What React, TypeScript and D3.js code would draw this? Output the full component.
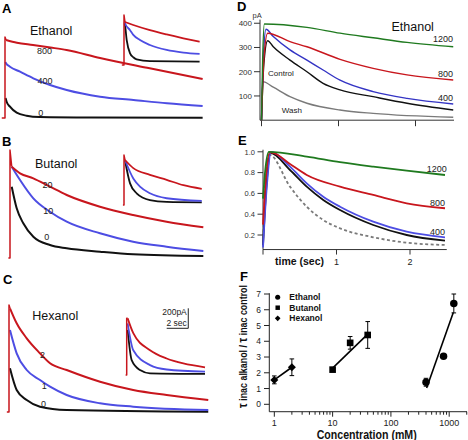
import React from 'react';
import * as d3 from 'd3';

type Pt = [number, number];

const FONT = '"Liberation Sans", Arial, Helvetica, sans-serif';
const RED = '#c8161d';
const BLUE = '#4d4de3';
const DBLUE = '#3434c4';
const GREEN = '#1f7a1f';
const GRAY = '#7a7a7a';
const BLACK = '#111111';

// calibration of panels A-C (scale bar: 200 pA, 2 sec)
const PX_PER_S = 10.8;
const PX_PER_PA = 0.1;

// ---------- Panel A (Ethanol): time (s), current (pA) ----------
const aRedSpike: Pt[] = [[-0.3, 0], [0, 0], [0, 810], [0.1, 780]];
const aRed: Pt[] = [[0.1, 780], [1.1, 753], [2.6, 730], [4.2, 705], [5.7, 680], [8.8, 600], [13.4, 497], [18.3, 390]];
const aBlue: Pt[] = [[0.05, 560], [0.09, 547], [0.46, 513], [1.39, 463], [2.62, 397], [4.17, 330], [5.71, 280], [8.8, 213], [11.9, 180], [15.0, 147], [18.3, 120]];
const aBlack: Pt[] = [[0.05, 200], [0.15, 163], [0.46, 113], [1.08, 53], [2.0, 23], [3.2, 10], [8, 5], [18.3, 3]];
// inset A: time (s), normalized current
const aInRedSpike: Pt[] = [[-0.2, 0], [0, 0], [0, 1.16], [0.09, 1.0]];
const aInRed: Pt[] = [[0.09, 1.0], [0.86, 0.93], [2.4, 0.81], [3.95, 0.71], [5.5, 0.62], [7.0, 0.54]];
const aInBlue: Pt[] = [[0.05, 1.0], [0.09, 0.97], [0.56, 0.81], [0.86, 0.7], [1.48, 0.58], [2.4, 0.465], [3.95, 0.35], [5.5, 0.29], [7.0, 0.26]];
const aInBlack: Pt[] = [[0.05, 0.97], [0.09, 0.93], [0.25, 0.58], [0.56, 0.27], [0.86, 0.18], [1.17, 0.13], [2.4, 0.09], [7.0, 0.08]];

// ---------- Panel B (Butanol) ----------
const bRedSpike: Pt[] = [[-0.15, 0], [0, 0], [0, 1080], [0.16, 913]];
const bRed: Pt[] = [[0.16, 913], [0.93, 847], [2.16, 797], [3.7, 713], [5.25, 630], [8.33, 513], [11.4, 430], [14.5, 363], [17.9, 307]];
const bBlue: Pt[] = [[0.16, 913], [0.93, 780], [2.16, 597], [3.7, 463], [5.25, 363], [8.33, 247], [11.4, 163], [14.5, 113], [17.9, 70]];
const bBlack: Pt[] = [[0.16, 713], [0.62, 497], [1.23, 347], [2.16, 213], [3.7, 130], [5.25, 97], [8.33, 63], [11.4, 37], [17.9, 20]];
const bInRedSpike: Pt[] = [[-0.1, 0], [0, 0], [0, 1.11], [0.09, 1.0]];
const bInRed: Pt[] = [[0.09, 1.0], [0.86, 0.82], [2.4, 0.67], [3.95, 0.56], [5.5, 0.44], [7.2, 0.36]];
const bInBlue: Pt[] = [[0.09, 1.0], [0.86, 0.59], [1.48, 0.41], [2.4, 0.26], [3.95, 0.15], [7.2, 0.09]];
const bInBlack: Pt[] = [[0.09, 1.0], [0.56, 0.48], [1.17, 0.26], [2.4, 0.11], [3.95, 0.07], [7.2, 0.06]];

// ---------- Panel C (Hexanol) ----------
const cRedSpike: Pt[] = [[-0.2, 0], [0, 0], [0, 1070], [0.09, 1037]];
const cRed: Pt[] = [[0.09, 1037], [0.71, 887], [1.64, 737], [2.87, 587], [3.8, 487], [5.34, 420], [8.43, 303], [11.5, 220], [14.6, 170], [18.45, 120]];
const cBlue: Pt[] = [[0.09, 820], [0.71, 587], [1.64, 420], [2.87, 320], [3.8, 253], [5.34, 170], [8.43, 87], [11.5, 53], [18.45, 20]];
const cBlack: Pt[] = [[0.09, 437], [0.71, 220], [1.64, 120], [2.87, 53], [5.34, 20], [18.45, 3]];
const cInRedSpike: Pt[] = [[-0.1, 0], [0, 0], [0, 1.03], [0.09, 1.03]];
const cInRed: Pt[] = [[0.09, 1.03], [0.61, 0.76], [2.16, 0.45], [3.7, 0.3], [5.24, 0.21], [7.25, 0.14]];
const cInBlue: Pt[] = [[0.09, 0.94], [0.61, 0.45], [2.16, 0.18], [3.7, 0.1], [7.25, 0.06]];
const cInBlack: Pt[] = [[0.09, 0.82], [0.46, 0.27], [1.23, 0.09], [2.16, 0.03], [7.25, 0.02]];
const scaleBarT = 2; // sec
const scaleBarI = 200; // pA

// ---------- Panel D (Ethanol, pA vs s) ----------
const dGreen: Pt[] = [[0, 0], [0.015, 250], [0.037, 397], [0.59, 383], [1.02, 359], [1.45, 340], [1.89, 321], [2.49, 303]];
const dRed: Pt[] = [[0, 0], [0.03, 250], [0.08, 359], [0.37, 324], [0.59, 303], [1.02, 251], [1.45, 214], [1.89, 187], [2.49, 166]];
const dBlue: Pt[] = [[0, 0], [0.025, 260], [0.058, 375], [0.153, 345], [0.37, 290], [0.59, 248], [0.8, 207], [1.02, 165], [1.45, 118], [1.89, 90], [2.49, 67]];
const dBlack: Pt[] = [[0, 0], [0.03, 230], [0.08, 328], [0.153, 303], [0.37, 248], [0.59, 200], [0.8, 152], [1.02, 125], [1.45, 97], [1.89, 70], [2.49, 42]];
const dWash: Pt[] = [[0, 0], [0.016, 159], [0.153, 136], [0.37, 97], [0.59, 70], [1.02, 42], [1.45, 28], [2.49, 12]];
const dTicksY = [100, 200, 300, 400];
const dTicksX = [0, 1, 2];

// ---------- Panel E (normalized fits) ----------
const eGreen: Pt[] = [[0, 0.55], [0.03, 0.82], [0.08, 1.0], [0.595, 0.953], [1.048, 0.9], [1.5, 0.857], [1.955, 0.818], [2.476, 0.777]];
const eRed: Pt[] = [[0, 0.3], [0.04, 0.75], [0.09, 0.995], [0.14, 0.99], [0.367, 0.883], [0.595, 0.777], [1.048, 0.665], [1.5, 0.585], [1.955, 0.505], [2.476, 0.457]];
const eBlue: Pt[] = [[0, 0.08], [0.05, 0.65], [0.11, 1.0], [0.367, 0.857], [0.595, 0.697], [0.82, 0.568], [1.048, 0.472], [1.5, 0.328], [1.955, 0.232], [2.476, 0.178]];
const eBlack: Pt[] = [[0, 0.1], [0.05, 0.7], [0.1, 0.99], [0.367, 0.825], [0.595, 0.665], [0.82, 0.537], [1.048, 0.44], [1.5, 0.296], [1.955, 0.2], [2.476, 0.145]];
const eWash: Pt[] = [[0, 0.12], [0.04, 0.8], [0.09, 0.97], [0.367, 0.665], [0.595, 0.472], [0.82, 0.344], [1.048, 0.264], [1.5, 0.178], [1.955, 0.126], [2.476, 0.104]];
const eTicksY = [0.2, 0.4, 0.6, 0.8, 1.0];
const eTicksX = [0, 1, 2];

// ---------- Panel F ----------
const fEthConc = [400, 800, 1200];
const fEthMean = [1.4, 3.05, 6.4];
const fEthErr = [0.25, 0, 0.6];
const fButConc = [10, 20, 40];
const fButMean = [2.2, 3.9, 4.4];
const fButErr = [0.12, 0.4, 0.85];
const fHexConc = [1, 2];
const fHexMean = [1.55, 2.35];
const fHexErr = [0.25, 0.53];
const fEthFit: Pt[] = [[410, 1.03], [1175, 5.83]];
const fButFit: Pt[] = [[10, 2.3], [40, 4.45]];
const fHexFit: Pt[] = [[1, 1.55], [2, 2.35]];
const fTicksY = [0, 1, 2, 3, 4, 5, 6, 7];
const fTicksX = [1, 10, 100, 1000];

function mainScales(x0: number, base: number) {
  const x = d3.scaleLinear().domain([0, 18.5]).range([x0, x0 + 18.5 * PX_PER_S]);
  const y = d3.scaleLinear().domain([0, 1000]).range([base, base - 1000 * PX_PER_PA]);
  return { x, y };
}
function insetScales(x0: number, base: number, h: number) {
  const x = d3.scaleLinear().domain([0, 7.2]).range([x0, x0 + 7.2 * PX_PER_S]);
  const y = d3.scaleLinear().domain([0, 1]).range([base, base - h]);
  return { x, y };
}

type Sc = { x: (v: number) => number; y: (v: number) => number };

function smooth(s: Sc, data: Pt[]) {
  return d3.line<Pt>().x(d => s.x(d[0])).y(d => s.y(d[1])).curve(d3.curveMonotoneX)(data) || '';
}
function straight(s: Sc, data: Pt[]) {
  return d3.line<Pt>().x(d => s.x(d[0])).y(d => s.y(d[1]))(data) || '';
}

function Traces(props: { s: Sc; spike: Pt[]; red: Pt[]; blue: Pt[]; black: Pt[]; w: number }) {
  const { s, spike, red, blue, black, w } = props;
  return (
    <g fill="none" strokeLinejoin="round">
      <path d={smooth(s, black)} stroke={BLACK} strokeWidth={w} />
      <path d={smooth(s, blue)} stroke={BLUE} strokeWidth={w} />
      <path d={smooth(s, red)} stroke={RED} strokeWidth={w} />
      <path d={straight(s, spike)} stroke={RED} strokeWidth={1.5} />
    </g>
  );
}

export default function App() {
  // A-C
  const aM = mainScales(5, 118);
  const aI = insetScales(124, 65, 43);
  const bM = mainScales(10, 258);
  const bI = insetScales(124, 205, 45);
  const cM = mainScales(9, 412);
  const cI = insetScales(126.7, 375, 55);

  // D
  const dX = d3.scaleLinear().domain([0, 2.5]).range([261.5, 454]);
  const dY = d3.scaleLinear().domain([0, 415]).range([120.2, 19.6]);
  const dS = { x: dX, y: dY };

  // E
  const eX = d3.scaleLinear().domain([0, 2.5]).range([263, 263 + 2.5 * 73.5]);
  const eY = d3.scaleLinear().domain([0, 1]).range([255.8, 151.8]);
  const eS = { x: eX, y: eY };

  // F
  const fX = d3.scaleLog().domain([0.82, 2020]).range([269.3, 467]);
  const fY = d3.scaleLinear().domain([0, 7]).range([404.3, 294]);
  const fS = { x: (v: number) => fX(v), y: fY };
  const minor: number[] = [];
  [1, 10, 100, 1000].forEach(dec => {
    for (let k = 2; k <= 9; k++) {
      const v = dec * k;
      if (v <= 2020) minor.push(v);
    }
  });

  const sqr = d3.symbol().type(d3.symbolSquare);
  const circ = d3.symbol().type(d3.symbolCircle);

  const letter = (t: string, x: number, y: number) => (
    <text x={x} y={y} fontSize={13} fontWeight="bold" fill="#000">{t}</text>
  );
  const lbl = (t: string, x: number, y: number, size = 9, anchor: any = 'start') => (
    <text x={x} y={y} fontSize={size} fill="#222" textAnchor={anchor}>{t}</text>
  );

  const errBar = (c: number, m: number, e: number, key: string) =>
    e > 0 ? (
      <g key={key} stroke="#000" strokeWidth={1}>
        <line x1={fX(c)} x2={fX(c)} y1={fY(m - e)} y2={fY(m + e)} />
        <line x1={fX(c) - 2.3} x2={fX(c) + 2.3} y1={fY(m - e)} y2={fY(m - e)} />
        <line x1={fX(c) - 2.3} x2={fX(c) + 2.3} y1={fY(m + e)} y2={fY(m + e)} />
      </g>
    ) : null;

  return (
    <svg width={468} height={440} style={{ position: 'absolute', left: 0, top: 0, background: '#fff' }} fontFamily={FONT}>
      <rect width={468} height={440} fill="#fff" />

      {/* Panel A */}
      {letter('A', 2, 13)}
      <text x={30} y={34.5} fontSize={12.5} fill="#111">Ethanol</text>
      <Traces s={aM} spike={aRedSpike} red={aRed} blue={aBlue} black={aBlack} w={2} />
      <Traces s={aI} spike={aInRedSpike} red={aInRed} blue={aInBlue} black={aInBlack} w={1.8} />
      {lbl('800', 37, 54)}
      {lbl('400', 37.5, 84)}
      {lbl('0', 38.3, 116)}

      {/* Panel B */}
      {letter('B', 2, 146)}
      <text x={35} y={167.5} fontSize={12.5} fill="#111">Butanol</text>
      <Traces s={bM} spike={bRedSpike} red={bRed} blue={bBlue} black={bBlack} w={2} />
      <Traces s={bI} spike={bInRedSpike} red={bInRed} blue={bInBlue} black={bInBlack} w={1.8} />
      {lbl('20', 42.5, 187.5)}
      {lbl('10', 43.3, 214)}
      {lbl('0', 44.3, 240)}

      {/* Panel C */}
      {letter('C', 3, 284)}
      <text x={32.3} y={319.5} fontSize={12.5} fill="#111">Hexanol</text>
      <Traces s={cM} spike={cRedSpike} red={cRed} blue={cBlue} black={cBlack} w={2} />
      <Traces s={cI} spike={cInRedSpike} red={cInRed} blue={cInBlue} black={cInBlack} w={1.8} />
      {lbl('2', 40, 358)}
      {lbl('1', 41.7, 388.5)}
      {lbl('0', 41, 406.5)}
      {/* scale bar */}
      <g stroke="#222" strokeWidth={1}>
        <line x1={cM.x(16.6)} x2={cM.x(16.6)} y1={cM.y(837)} y2={cM.y(837 + scaleBarI)} />
        <line x1={cM.x(16.6 - scaleBarT)} x2={cM.x(16.6)} y1={cM.y(837)} y2={cM.y(837)} />
      </g>
      <text x={186.8} y={315} fontSize={8.5} fill="#222" textAnchor="end">200pA</text>
      <text x={186.8} y={326.3} fontSize={8.5} fill="#222" textAnchor="end">2 sec</text>

      {/* Panel D */}
      {letter('D', 237, 11)}
      <g stroke="#333" strokeWidth={1}>
        <line x1={260} x2={260} y1={dY(415)} y2={dY(0)} />
        <line x1={260} x2={dX(2.5)} y1={dY(0)} y2={dY(0)} />
        {dTicksY.map(t => <line key={t} x1={254} x2={260} y1={dY(t)} y2={dY(t)} />)}
        {dTicksX.map(t => <line key={t} x1={dX(t)} x2={dX(t)} y1={dY(0)} y2={dY(0) + 6} />)}
      </g>
      {dTicksY.map(t => <text key={t} x={252} y={dY(t) + 3} fontSize={8} fill="#333" textAnchor="end">{t}</text>)}
      <text x={252.5} y={18} fontSize={7.5} fill="#333">pA</text>
      <g fill="none" strokeLinejoin="round" strokeWidth={1.4}>
        <path d={smooth(dS, dWash)} stroke={GRAY} />
        <path d={smooth(dS, dBlack)} stroke={BLACK} />
        <path d={smooth(dS, dBlue)} stroke={DBLUE} />
        <path d={smooth(dS, dRed)} stroke={RED} />
        <path d={smooth(dS, dGreen)} stroke={GREEN} />
      </g>
      <text x={391.5} y={31} fontSize={12.5} fill="#111">Ethanol</text>
      {lbl('1200', 453, 41.5, 9, 'end')}
      {lbl('800', 453, 76.5, 9, 'end')}
      {lbl('400', 453, 100.5, 9, 'end')}
      {lbl('Control', 268, 76, 8)}
      {lbl('Wash', 281.7, 113, 8)}

      {/* Panel E */}
      {letter('E', 238, 145)}
      <g stroke="#333" strokeWidth={1}>
        <line x1={263} x2={263} y1={eY(1.02)} y2={eY(0.06)} />
        <line x1={263} x2={eX(2.5)} y1={eY(0.06)} y2={eY(0.06)} />
        {eTicksY.map(t => <line key={t} x1={257.5} x2={263} y1={eY(t)} y2={eY(t)} />)}
        {eTicksX.map(t => <line key={t} x1={eX(t)} x2={eX(t)} y1={eY(0.06)} y2={eY(0.06) + 5} />)}
      </g>
      {eTicksY.map(t => <text key={t} x={255} y={eY(t) + 2.7} fontSize={7.5} fill="#333" textAnchor="end">{t.toFixed(1)}</text>)}
      {eTicksX.filter(t => t > 0).map(t => <text key={t} x={eX(t)} y={265} fontSize={9} fill="#222" textAnchor="middle">{t}</text>)}
      <text x={275} y={265} fontSize={10.5} fontWeight="bold" fill="#111">time (sec)</text>
      <g fill="none" strokeLinejoin="round" strokeWidth={1.8}>
        <path d={smooth(eS, eWash)} stroke={GRAY} strokeDasharray="3,2.5" />
        <path d={smooth(eS, eBlack)} stroke={BLACK} />
        <path d={smooth(eS, eBlue)} stroke={BLUE} />
        <path d={smooth(eS, eRed)} stroke={RED} />
        <path d={smooth(eS, eGreen)} stroke={GREEN} />
      </g>
      {lbl('1200', 446.7, 172, 9, 'end')}
      {lbl('800', 445, 206, 9, 'end')}
      {lbl('400', 445, 235, 9, 'end')}

      {/* Panel F */}
      {letter('F', 240, 281)}
      <g stroke="#222" strokeWidth={1}>
        <line x1={269.3} x2={269.3} y1={fY(7.05)} y2={fY(-0.47)} />
        <line x1={269.3} x2={467} y1={fY(-0.47)} y2={fY(-0.47)} />
        {fTicksY.map(t => <line key={t} x1={264} x2={269.3} y1={fY(t)} y2={fY(t)} />)}
        {fTicksX.map(t => <line key={t} x1={fX(t)} x2={fX(t)} y1={fY(-0.47)} y2={fY(-0.47) + 5} />)}
        {minor.map(t => <line key={'m' + t} x1={fX(t)} x2={fX(t)} y1={fY(-0.47)} y2={fY(-0.47) + 3} />)}
      </g>
      {fTicksY.map(t => <text key={t} x={261} y={fY(t) + 3} fontSize={8.5} fill="#222" textAnchor="end">{t}</text>)}
      {fTicksX.map(t => <text key={t} x={fX(t)} y={425.5} fontSize={9} fill="#222" textAnchor="middle">{t}</text>)}
      <text x={366.7} y={438.5} fontSize={12} fontWeight="bold" fill="#111" textAnchor="middle" textLength={100} lengthAdjust="spacingAndGlyphs">Concentration (mM)</text>
      <text transform="translate(247,346.5) rotate(-90)" fontSize={10} fontWeight="bold" fill="#111" textAnchor="middle" textLength={123} lengthAdjust="spacingAndGlyphs">
        <tspan fontSize={12}>τ</tspan> inac alkanol / <tspan fontSize={12}>τ</tspan> inac control
      </text>
      <g fill="none" stroke="#000" strokeWidth={1.6}>
        <path d={straight(fS, fHexFit)} />
        <path d={straight(fS, fButFit)} />
        <path d={straight(fS, fEthFit)} />
      </g>
      {fHexConc.map((c, i) => errBar(c, fHexMean[i], fHexErr[i], 'he' + i))}
      {fButConc.map((c, i) => errBar(c, fButMean[i], fButErr[i], 'be' + i))}
      {fEthConc.map((c, i) => errBar(c, fEthMean[i], fEthErr[i], 'ee' + i))}
      {fHexConc.map((c, i) => (
        <path key={'h' + i} d={sqr.size(32)() || ''} transform={`translate(${fX(c)},${fY(fHexMean[i])}) rotate(45)`} fill="#000" />
      ))}
      {fButConc.map((c, i) => (
        <path key={'b' + i} d={sqr.size(44)() || ''} transform={`translate(${fX(c)},${fY(fButMean[i])})`} fill="#000" />
      ))}
      {fEthConc.map((c, i) => (
        <path key={'e' + i} d={circ.size(44)() || ''} transform={`translate(${fX(c)},${fY(fEthMean[i])})`} fill="#000" />
      ))}
      {/* legend */}
      <path d={circ.size(20)() || ''} transform="translate(277.7,297.3)" fill="#000" />
      <path d={sqr.size(20)() || ''} transform="translate(277.7,307.7)" fill="#000" />
      <path d={sqr.size(16)() || ''} transform="translate(277.7,318.3) rotate(45)" fill="#000" />
      <text x={289.3} y={300.3} fontSize={8.5} fontWeight="bold" fill="#111">Ethanol</text>
      <text x={289.3} y={310.7} fontSize={8.5} fontWeight="bold" fill="#111">Butanol</text>
      <text x={289.3} y={321.3} fontSize={8.5} fontWeight="bold" fill="#111">Hexanol</text>
    </svg>
  );
}
